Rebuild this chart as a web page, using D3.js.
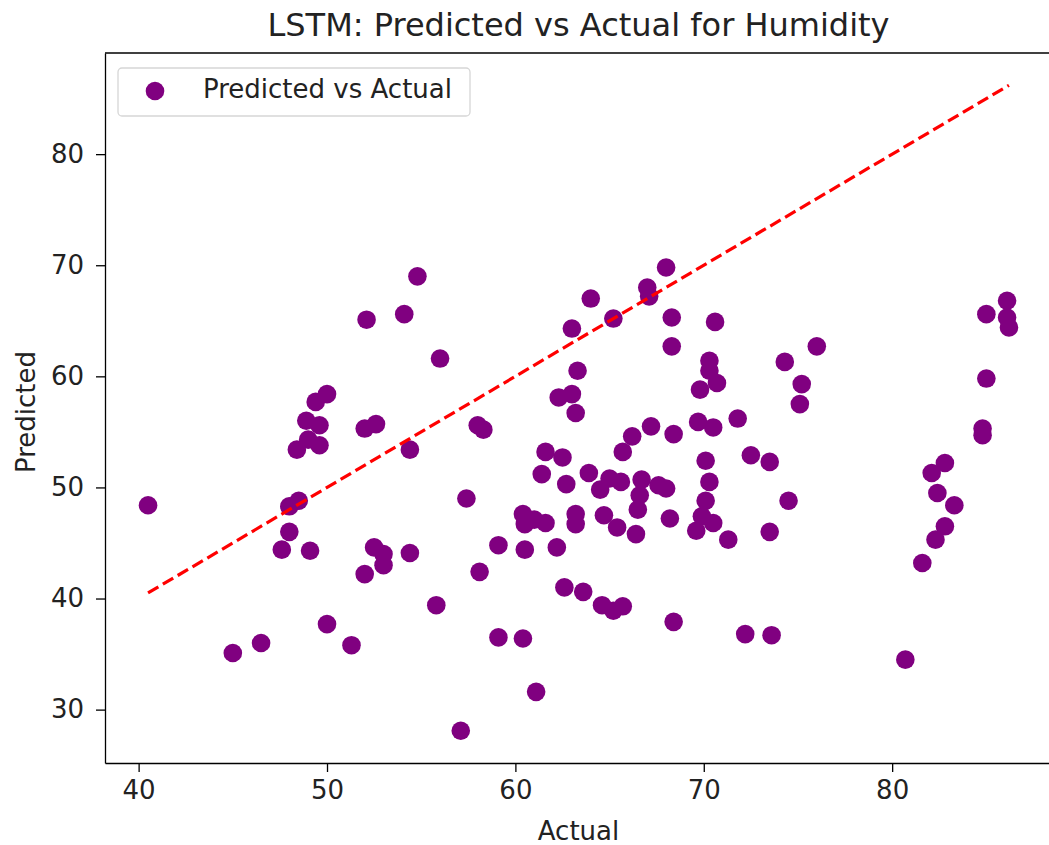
<!DOCTYPE html>
<html>
<head>
<meta charset="utf-8">
<script src="https://cdn.jsdelivr.net/npm/d3@7"></script>
<style>
    body { margin: 0; background: #fff; }
    svg { display: block; font-family: "DejaVu Sans", sans-serif; }
</style>
</head>
<body>
<div id="chart"></div>
<script>
// values
const actual = [
    40.5, 45.0, 46.5, 50.0, 51.3, 47.6, 49.1, 48.0, 48.0, 48.5,
    48.4, 49.0, 49.6, 48.9, 49.6, 49.4, 50.0, 54.8, 52.1, 54.1,
    56.0, 52.0, 52.6, 54.4, 58.0, 58.3, 57.4, 63.0, 63.3, 62.3,
    63.0, 63.2, 61.6, 62.5, 61.4, 62.7, 52.5, 53.0, 53.0, 54.4,
    52.0, 55.8, 58.1, 59.1, 60.5, 62.2, 60.4, 60.5, 61.0, 61.6,
    63.2, 63.2, 62.6, 63.6, 59.1, 60.4, 61.1, 57.1, 68.0, 67.0,
    67.1, 64.0, 65.2, 68.3, 68.3, 70.6, 70.3, 70.3, 70.7, 69.8,
    74.3, 75.2, 75.1, 76.0, 71.8, 69.7, 70.5, 68.4, 67.2, 66.2,
    65.7, 63.9, 72.5, 73.5, 70.1, 70.3, 70.1, 74.5, 65.0, 64.5,
    65.6, 66.7, 66.6, 67.6, 68.0, 64.7, 65.4, 66.5, 66.4, 68.2,
    69.9, 70.5, 69.6, 71.3, 73.5, 64.6, 65.2, 65.7, 68.4, 72.2,
    73.6, 86.1, 85.0, 86.1, 86.2, 85.0, 84.8, 84.8, 82.8, 82.1,
    82.4, 83.3, 82.8, 82.3, 81.6, 80.7
];
const predicted = [
    48.4, 35.1, 36.0, 37.7, 35.8, 44.4, 44.3, 46.0, 48.3, 48.8,
    53.4, 54.3, 53.8, 56.0, 55.6, 57.7, 58.4, 69.0, 65.1, 65.6,
    61.6, 55.3, 55.7, 53.4, 55.6, 55.2, 49.0, 64.3, 60.5, 58.1,
    58.4, 56.7, 53.2, 52.7, 51.2, 50.3, 44.6, 44.0, 43.0, 44.1,
    42.2, 39.4, 42.4, 44.8, 44.4, 44.6, 47.6, 46.7, 47.1, 46.8,
    47.6, 46.7, 41.0, 40.6, 36.5, 36.4, 31.6, 28.1, 69.8, 68.0,
    67.2, 67.0, 65.2, 65.3, 62.7, 64.9, 61.4, 60.5, 59.4, 58.8,
    61.3, 59.3, 57.5, 62.7, 56.2, 55.9, 55.4, 54.8, 55.5, 54.6,
    53.2, 51.3, 52.9, 52.3, 52.4, 50.5, 48.8, 48.8, 50.8, 49.8,
    50.5, 50.7, 49.3, 50.2, 49.9, 47.5, 46.4, 48.0, 45.8, 47.2,
    47.4, 46.8, 46.1, 45.3, 46.0, 39.4, 38.9, 39.3, 37.9, 36.8,
    36.7, 66.8, 65.6, 65.3, 64.4, 59.8, 55.3, 54.7, 52.2, 51.3,
    49.5, 48.4, 46.5, 45.3, 43.2, 34.5
];
const xTicks = [40, 50, 60, 70, 80];
const yTicks = [30, 40, 50, 60, 70, 80];
const titleText = "LSTM: Predicted vs Actual for Humidity";
const legendLabel = "Predicted vs Actual";

function buildChart() {
    const width = 1049, height = 845;
    const margin = { top: 53, right: -3, bottom: 82, left: 105 };
    const innerW = width - margin.left - margin.right;
    const innerH = height - margin.top - margin.bottom;
    const fontSize = 26;

    const svg = d3.select("#chart").append("svg")
        .attr("width", width)
        .attr("height", height);

    // matplotlib style 5% padding around the data
    const [xMin, xMax] = d3.extent(actual);
    const lineEnd = xMax;
    const yLo = Math.min(d3.min(predicted), xMin);
    const yHi = Math.max(d3.max(predicted), lineEnd);
    const xPad = (xMax - xMin) * 0.05, yPad = (yHi - yLo) * 0.05;

    const x = d3.scaleLinear().domain([xMin - xPad, xMax + xPad]).range([0, innerW]);
    const y = d3.scaleLinear().domain([yLo - yPad, yHi + yPad]).range([innerH, 0]);

    const g = svg.append("g").attr("transform", `translate(${margin.left},${margin.top})`);

    // points
    g.append("g").selectAll("circle")
        .data(actual.map((a, i) => [a, predicted[i]]))
        .enter().append("circle")
        .attr("cx", d => x(d[0]))
        .attr("cy", d => y(d[1]))
        .attr("r", 9.3)
        .attr("fill", "#800080");

    // perfect prediction line
    g.append("line")
        .attr("x1", x(xMin)).attr("y1", y(xMin))
        .attr("x2", x(lineEnd)).attr("y2", y(lineEnd))
        .attr("stroke", "#ff0000")
        .attr("stroke-width", 3.2)
        .attr("stroke-dasharray", "12,5.2");

    // axes
    const xAxis = g.append("g")
        .attr("transform", `translate(0,${innerH})`)
        .call(d3.axisBottom(x).tickValues(xTicks).tickSize(9).tickPadding(9).tickSizeOuter(0));
    const yAxis = g.append("g")
        .call(d3.axisLeft(y).tickValues(yTicks).tickSize(9).tickPadding(12).tickSizeOuter(0));

    [xAxis, yAxis].forEach(a => {
        a.select(".domain").attr("stroke", "#000").attr("stroke-width", 1.3);
        a.selectAll(".tick line").attr("stroke", "#000").attr("stroke-width", 1.3);
        a.selectAll(".tick text")
            .attr("font-family", "DejaVu Sans, sans-serif")
            .attr("font-size", fontSize)
            .attr("fill", "#222");
    });

    // top spine
    g.append("line")
        .attr("x1", 0).attr("x2", innerW)
        .attr("y1", 0).attr("y2", 0)
        .attr("stroke", "#000").attr("stroke-width", 1.3);

    // title and labels
    svg.append("text")
        .attr("x", margin.left + innerW / 2)
        .attr("y", 36)
        .attr("text-anchor", "middle")
        .attr("font-size", 32)
        .attr("fill", "#222")
        .text(titleText);

    svg.append("text")
        .attr("x", margin.left + innerW / 2)
        .attr("y", 840)
        .attr("text-anchor", "middle")
        .attr("font-size", fontSize)
        .attr("fill", "#222")
        .text("Actual");

    svg.append("text")
        .attr("transform", `translate(35,412) rotate(-90)`)
        .attr("text-anchor", "middle")
        .attr("font-size", fontSize)
        .attr("fill", "#222")
        .text("Predicted");

    // legend
    const legend = svg.append("g").attr("transform", "translate(118,68)");
    legend.append("rect")
        .attr("width", 352).attr("height", 48)
        .attr("rx", 4)
        .attr("fill", "#fff").attr("fill-opacity", 0.8)
        .attr("stroke", "#d6d6d6").attr("stroke-width", 1.3);
    legend.append("circle")
        .attr("cx", 37).attr("cy", 23)
        .attr("r", 9.3)
        .attr("fill", "#800080");
    legend.append("text")
        .attr("x", 85).attr("y", 30)
        .attr("font-size", fontSize)
        .attr("fill", "#222")
        .text(legendLabel);
}

window.addEventListener("load", buildChart);
</script>
</body>
</html>
